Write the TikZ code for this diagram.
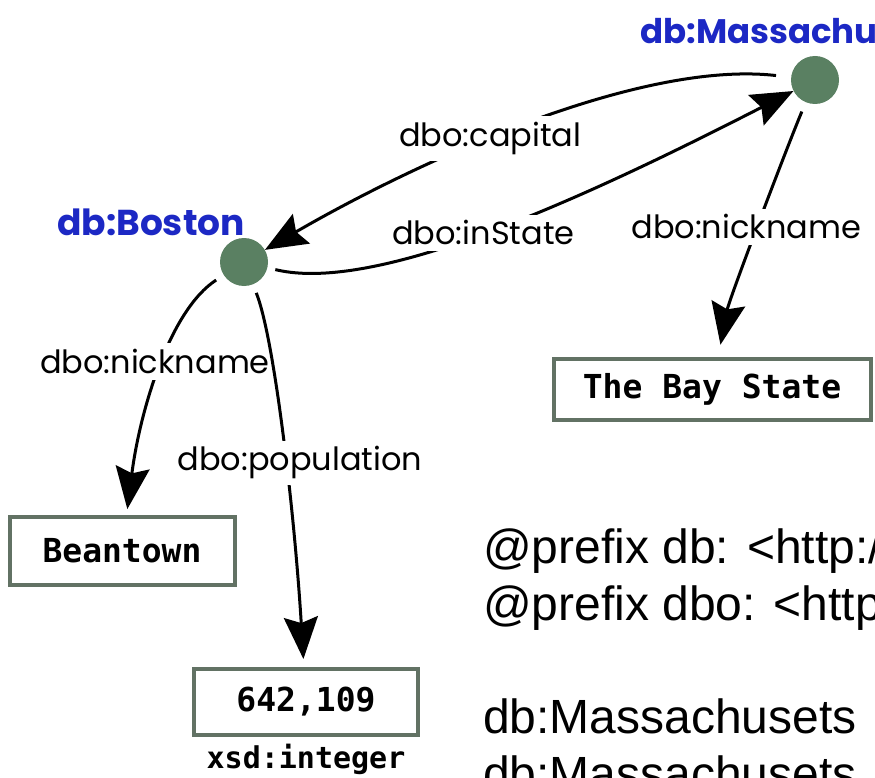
\documentclass[tikz,border=0pt]{standalone}
\usepackage{fontspec}
\setmainfont{Liberation Sans}
\newfontfamily\handfont{Poppins}
\newfontfamily\litfont{DejaVu Sans Mono}
\usepackage{tikz}
\usetikzlibrary{arrows.meta, positioning}
\definecolor{resgreen}{RGB}{90,128,98}
\definecolor{litgreen}{RGB}{98,114,100}
\definecolor{resblue}{RGB}{28,40,196}

\begin{document}
\begin{tikzpicture}[x=1pt, y=-1pt,
    res/.style={circle, fill=resgreen, minimum size=48pt, inner sep=0pt},
    reslabel/.style={font=\handfont\bfseries\fontsize{36}{42}\selectfont, text=resblue, inner sep=0pt},
    lit/.style={draw=litgreen, line width=4pt, font=\litfont\bfseries\fontsize{33}{40}\selectfont, inner sep=0pt},
    edge/.style={line width=3pt, -{Stealth[length=42pt, width=34pt, inset=6pt]}},
    prop/.style={font=\handfont\fontsize{32}{38}\selectfont, text=black, fill=white, inner sep=6pt},
    turtle/.style={font=\fontsize{48}{57}\selectfont, inner sep=0pt, anchor=base west}
]
\useasboundingbox (0,0) rectangle (875,778);
\clip (0,0) rectangle (875,778);

% resources
\node[res] (mass) at (815,80) {};
\node[reslabel, anchor=base west, font=\handfont\bfseries\fontsize{34}{40}\selectfont] (masslbl) at (640,44) {db:Massachus};
\node[res] (boston) at (244,262) {};
\node[reslabel, anchor=base] (bostonlbl) at (151,235) {db:Boston};

% literals
\node[lit, minimum width=317pt, minimum height=61pt] (bay) at (712,389) {The Bay State};
\node[lit, minimum width=225pt, minimum height=68pt] (bean) at (122,551) {Beantown};
\node[lit, minimum width=224pt, minimum height=66pt] (pop) at (306,702) {642,109};
\node[font=\litfont\bfseries\fontsize{30}{36}\selectfont, below=7pt of pop, inner sep=0pt] (poptype) {xsd:integer};

% properties
\draw[edge, shorten <=15pt] (mass) .. controls (640,60) and (420,160) .. (boston)
    node[prop, pos=0.57] {dbo:capital};
\draw[edge, shorten <=8pt] (boston) .. controls (380,295) and (600,190) .. (mass)
    node[prop, pos=0.47] {dbo:inState};
\draw[edge, shorten <=10pt, shorten >=12pt] (mass) .. controls (785,152) and (729,300) .. (bay)
    node[prop, pos=0.5, xshift=-12pt] {dbo:nickname};
\draw[edge, shorten <=9pt, shorten >=6pt] (boston) .. controls (170,310) and (140,410) .. (bean)
    node[prop, pos=0.47, xshift=-8pt] {dbo:nickname};
\draw[edge, shorten <=9pt, shorten >=8pt] (boston) .. controls (275,340) and (295,520) .. (pop)
    node[prop, pos=0.55, xshift=14pt] {dbo:population};

% turtle
\node[turtle] (pfx1) at (483,563) {@prefix db: <http:/};
\node[turtle] (pfx2) at (483,620) {@prefix dbo: <http};
\node[turtle] (subj1) at (483,733) {db:Massachusets};
\node[turtle] (subj2) at (483,790) {db:Massachusets};
\end{tikzpicture}
\end{document}
